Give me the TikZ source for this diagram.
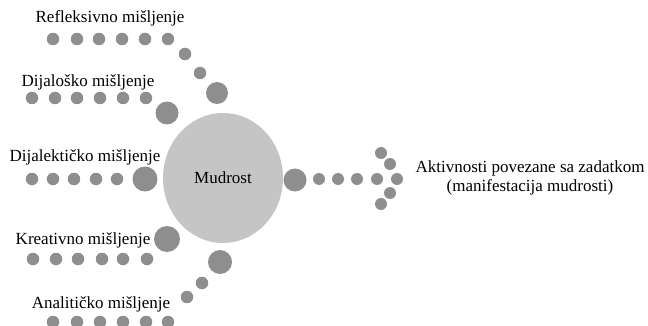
\documentclass[tikz,border=0pt]{standalone}
\usepackage{fontspec}
\setmainfont{Liberation Serif}
\usepackage{xcolor}
\usepackage{tikz}
\usetikzlibrary{shapes,positioning}

\definecolor{dotgray}{RGB}{142,142,142}
\definecolor{coregray}{RGB}{197,197,197}

\begin{document}
\begin{tikzpicture}[
    x=1pt, y=-1pt,
    dot/.style={circle, fill=dotgray, inner sep=0pt, minimum size=12.5pt},
    bigdot/.style={circle, fill=dotgray, inner sep=0pt, minimum size=23pt},
    core/.style={ellipse, fill=coregray, inner sep=0pt, minimum width=120pt, minimum height=130pt},
    txt/.style={font=\fontsize{17}{19}\selectfont, inner sep=0pt, align=center}
]
    \useasboundingbox (0,0) rectangle (648,326);

    % center
    \node[core, txt] (mudrost) at (223,178) {Mudrost};

    % refleksivno
    \node[txt] (refl) at (110,18) {Refleksivno mišljenje};
    \node[dot] (r1) at (53,39) {};
    \node[dot] (r2) at (77,39) {};
    \node[dot] (r3) at (99,39) {};
    \node[dot] (r4) at (122,39) {};
    \node[dot] (r5) at (145,39) {};
    \node[dot] (r6) at (168,39) {};
    \node[dot] (r7) at (185,54) {};
    \node[dot] (r8) at (200,73) {};
    \node[bigdot, minimum size=22pt] (r9) at (217,93) {};

    % dijalosko
    \node[txt] (dial) at (88,82) {Dijaloško mišljenje};
    \node[dot] (d1) at (32,98) {};
    \node[dot] (d2) at (55,98) {};
    \node[dot] (d3) at (77,98) {};
    \node[dot] (d4) at (100,98) {};
    \node[dot] (d5) at (123,98) {};
    \node[dot] (d6) at (146,98) {};
    \node[bigdot] (d7) at (167,113) {};

    % dijalekticko
    \node[txt] (dlek) at (85,157) {Dijalektičko mišljenje};
    \node[dot] (e1) at (32,179) {};
    \node[dot] (e2) at (53,179) {};
    \node[dot] (e3) at (74,179) {};
    \node[dot] (e4) at (96,179) {};
    \node[dot] (e5) at (117,179) {};
    \node[bigdot, minimum size=25pt] (e6) at (145,179) {};

    % kreativno
    \node[txt] (krea) at (83,240) {Kreativno mišljenje};
    \node[bigdot, minimum size=26pt] (k7) at (167,239) {};
    \node[dot] (k1) at (33,259) {};
    \node[dot] (k2) at (56,259) {};
    \node[dot] (k3) at (78,259) {};
    \node[dot] (k4) at (102,259) {};
    \node[dot] (k5) at (123,259) {};
    \node[dot] (k6) at (147,259) {};

    % analiticko
    \node[bigdot, minimum size=24pt] (a9) at (220,262) {};
    \node[dot] (a8) at (202,283) {};
    \node[dot] (a7) at (187,297) {};
    \node[txt] (anal) at (101,304) {Analitičko mišljenje};
    \node[dot] (a1) at (53,322) {};
    \node[dot] (a2) at (77,322) {};
    \node[dot] (a3) at (100,322) {};
    \node[dot] (a4) at (123,322) {};
    \node[dot] (a5) at (146,322) {};
    \node[dot] (a6) at (168,322) {};

    % aktivnosti
    \node[bigdot] (t0) at (295,180) {};
    \node[dot, minimum size=12pt] (t1) at (319,179) {};
    \node[dot, minimum size=12pt] (t2) at (338,179) {};
    \node[dot, minimum size=12pt] (t3) at (357,179) {};
    \node[dot, minimum size=12pt] (t4) at (377,179) {};
    \node[dot, minimum size=12pt] (h1) at (381,153) {};
    \node[dot, minimum size=12pt] (h2) at (390,164) {};
    \node[dot, minimum size=12pt] (h3) at (397,179) {};
    \node[dot, minimum size=12pt] (h4) at (390,193) {};
    \node[dot, minimum size=12pt] (h5) at (381,204) {};
    \node[txt] (aktiv) at (530,178) {Aktivnosti povezane sa zadatkom\\(manifestacija mudrosti)};
\end{tikzpicture}
\end{document}
